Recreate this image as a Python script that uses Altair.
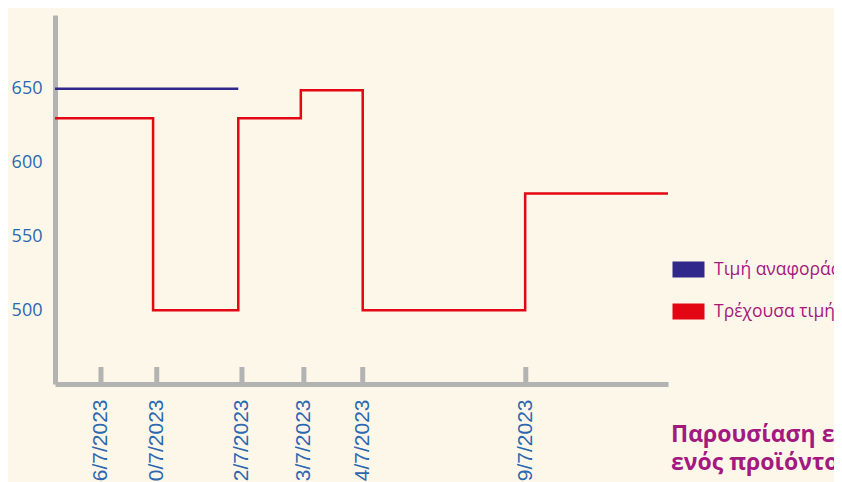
import altair as alt
import pandas as pd

# ---- data ----
tick_pos = [7.5, 16.6, 30.5, 40.6, 50.2, 76.8]
tick_labels = ["16/7/2023", "20/7/2023", "22/7/2023", "23/7/2023", "24/7/2023", "29/7/2023"]

ref_t = [0, 29.9]
ref_v = [650, 650]

cur_t = [0, 16.0, 29.9, 40.1, 50.2, 76.7, 100]
cur_v = [630, 500, 630, 649, 500, 579, 579]

series_names = ["Τιμή αναφοράς", "Τρέχουσα τιμή"]
series_colors = ["#30288a", "#e30613"]

y_ticks = [500, 550, 600, 650]
title_lines = ["Παρουσίαση εξέλιξης τιμής", "ενός προϊόντος"]

BG = "#fdf7ea"
GRAY = "#b3b3b3"
BLUE_TXT = "#2c68b0"
MAGENTA = "#a3197f"

# legend swatch: a bar drawn as stacked horizontal strokes (so it takes the series stroke colour)
SWATCH = "".join("M-1,%sH1" % y for y in
                 ["-0.4375", "-0.3125", "-0.1875", "-0.0625", "0.0625", "0.1875", "0.3125", "0.4375"])

rows = []
for t, v in zip(ref_t, ref_v):
    rows.append({"t": t, "v": v, "series": series_names[0]})
for t, v in zip(cur_t, cur_v):
    rows.append({"t": t, "v": v, "series": series_names[1]})
df = pd.DataFrame(rows)
ticks_df = pd.DataFrame({"t": tick_pos})

x_scale = alt.Scale(domain=[0, 100], nice=False, zero=False)
y_scale = alt.Scale(domain=[450, 700], nice=False, zero=False)
color_scale = alt.Scale(domain=series_names, range=series_colors)

label_expr = (
    "[" + ",".join("'%s'" % s for s in tick_labels) + "]"
    + "[indexof([" + ",".join(str(p) for p in tick_pos) + "], datum.value)]"
)

x_enc = alt.X("t:Q", scale=x_scale,
              axis=alt.Axis(values=tick_pos, labelExpr=label_expr, title=None,
                            ticks=False, grid=False, domainColor=GRAY, domainWidth=5,
                            labelAngle=270, labelAlign="right", labelBaseline="middle",
                            labelPadding=15, labelColor=BLUE_TXT, labelFontSize=21,
                            labelFont="Liberation Sans", labelOverlap=False))
y_enc = alt.Y("v:Q", scale=y_scale,
              axis=alt.Axis(values=y_ticks, title=None, ticks=False, grid=False,
                            domainColor=GRAY, domainWidth=5, labelPadding=13,
                            labelColor=BLUE_TXT, labelFontSize=18, labelFont="Open Sans"))

lines = alt.Chart(df).mark_line(interpolate="step-after", strokeWidth=2.5).encode(
    x=x_enc,
    y=y_enc,
    color=alt.Color("series:N", scale=color_scale,
                    legend=alt.Legend(title=None, orient="none", legendX=616, legendY=237,
                                      symbolType=SWATCH, symbolSize=1024,
                                      symbolStrokeWidth=2.2, symbolOpacity=1,
                                      labelFont="Open Sans", labelFontSize=17.5,
                                      labelColor=MAGENTA, labelOffset=8, rowPadding=13)),
    detail="series:N",
)

tick_rules = alt.Chart(ticks_df).mark_rule(color=GRAY, strokeWidth=5).encode(
    x=alt.X("t:Q", scale=x_scale),
    y=alt.datum(450),
    y2=alt.datum(461.5),
)

title_df = pd.DataFrame({"txt": [title_lines]})
title_text = alt.Chart(title_df).mark_text(
    align="left", baseline="alphabetic", fontSize=23, fontWeight="bold",
    font="Open Sans", color=MAGENTA, lineHeight=28,
).encode(
    x=alt.value(616),
    y=alt.value(427),
    text="txt",
)

chart = alt.layer(tick_rules, lines, title_text).properties(
    width=613,
    height=369,
    background=BG,
    padding={"left": 47, "top": 7, "right": 166, "bottom": 104},
    autosize=alt.AutoSizeParams(type="none"),
).configure_view(stroke=None)

chart.save("out.html", embed_options={"renderer": "svg", "actions": False})
